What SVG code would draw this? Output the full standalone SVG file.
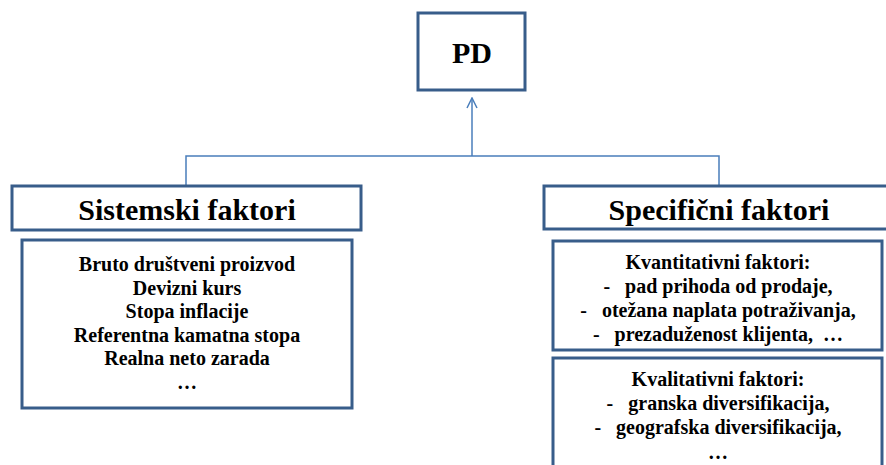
<svg xmlns="http://www.w3.org/2000/svg" width="886" height="465" viewBox="0 0 886 465">
<defs>
<style>
.box{fill:#ffffff;stroke:#385d8a;stroke-width:3}
.conn{fill:none;stroke:#4a7ebb;stroke-width:1.5}
.t{font-family:"Liberation Serif","Times New Roman",serif;font-weight:bold;fill:#000000;text-anchor:middle;white-space:pre}
.big{font-size:30px}
.sm{font-size:20px}
</style>
<marker id="arr" viewBox="0 0 12 12" refX="11" refY="6" markerWidth="12" markerHeight="12" markerUnits="userSpaceOnUse" orient="auto">
<path d="M1,1 L11,6 L1,11" fill="none" stroke="#4a7ebb" stroke-width="1.5"/>
</marker>
</defs>
<rect width="886" height="465" fill="#ffffff"/>
<g id="connectors">
<path class="conn" d="M186,186 V156 H719 V186"/>
<path class="conn" d="M472,156 V98" marker-end="url(#arr)"/>
</g>
<g id="pd">
<rect class="box" x="418" y="13" width="107" height="77"/>
<text class="t big" x="472" y="63">PD</text>
</g>
<g id="sistemski">
<rect class="box" x="12" y="186" width="349" height="44"/>
<text class="t big" x="187" y="220">Sistemski faktori</text>
</g>
<g id="sistemski-list">
<rect class="box" x="22" y="240" width="330" height="168"/>
<text class="t sm" x="187" y="271">Bruto društveni proizvod</text>
<text class="t sm" x="187" y="294.5">Devizni kurs</text>
<text class="t sm" x="187" y="318">Stopa inflacije</text>
<text class="t sm" x="187" y="341.5">Referentna kamatna stopa</text>
<text class="t sm" x="187" y="365">Realna neto zarada</text>
<text class="t sm" x="187" y="388.5">…</text>
</g>
<g id="specificni">
<rect class="box" x="544" y="186" width="350" height="43"/>
<text class="t big" x="719" y="220">Specifični faktori</text>
</g>
<g id="kvantitativni">
<rect class="box" x="553" y="241" width="329" height="109"/>
<text class="t sm" x="718" y="269">Kvantitativni faktori:</text>
<text class="t sm" x="718" y="293">-   pad prihoda od prodaje,</text>
<text class="t sm" x="718" y="317">-   otežana naplata potraživanja,</text>
<text class="t sm" x="718" y="341">-   prezaduženost klijenta,  …</text>
</g>
<g id="kvalitativni">
<rect class="box" x="553" y="358" width="329" height="120"/>
<text class="t sm" x="718" y="386">Kvalitativni faktori:</text>
<text class="t sm" x="718" y="410">-   granska diversifikacija,</text>
<text class="t sm" x="718" y="434">-   geografska diversifikacija,</text>
<text class="t sm" x="718" y="459">…</text>
</g>
</svg>
